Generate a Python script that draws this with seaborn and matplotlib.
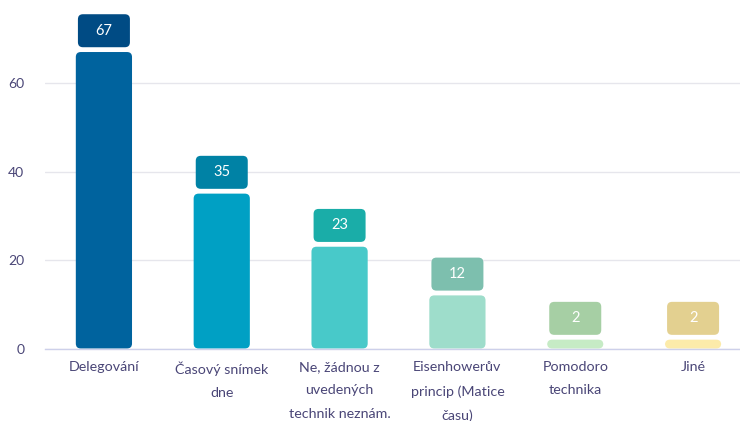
import matplotlib
matplotlib.use("Agg")
import matplotlib.pyplot as plt
from matplotlib.patches import FancyBboxPatch
import seaborn as sns
import pandas as pd

categories = [
    "Delegování",
    "Časový snímek\ndne",
    "Ne, žádnou z\nuvedených\ntechnik neznám.",
    "Eisenhowerův\nprincip (Matice\nčasu)",
    "Pomodoro\ntechnika",
    "Jiné",
]
values = [67, 35, 23, 12, 2, 2]
bar_colors = ["#00639e", "#00a0c4", "#48c9c9", "#9eddcb", "#c6ebc5", "#fcebaa"]
label_colors = ["#004b84", "#0082a5", "#1aada8", "#7dbfae", "#a6cfa4", "#e3d090"]
yticks = [0, 20, 40, 60]

sns.set_theme(style="white")
plt.rcParams["font.family"] = ["Lato", "DejaVu Sans"]
text_color = "#4a4677"

W, H = 740, 421
fig = plt.figure(figsize=(W / 100, H / 100), dpi=100)
ax_left, ax_bottom_px, ax_top_px, ax_right = 45, 348.5, 0, 752
ax = fig.add_axes([ax_left / W, (H - ax_bottom_px) / H,
                   (ax_right - ax_left) / W, (ax_bottom_px - ax_top_px) / H])

df = pd.DataFrame({"cat": categories, "val": values})
sns.barplot(data=df, x="cat", y="val", hue="cat", palette=bar_colors,
            legend=False, width=0.477, ax=ax)

px_per_unit_y = 4.425
ymax = (ax_bottom_px - ax_top_px) / px_per_unit_y
ax.set_ylim(0, ymax)
ax.set_xlim(-0.5, len(categories) - 0.5)
px_per_unit_x = (ax_right - ax_left) / len(categories)
aspect = px_per_unit_x / px_per_unit_y

# Replace plain rectangles with rounded bars and add value tags above them
for i, patch in enumerate(list(ax.patches)):
    x, w, h = patch.get_x(), patch.get_width(), patch.get_height()
    patch.set_visible(False)
    r = 5 / px_per_unit_x
    ax.add_patch(FancyBboxPatch((x, 0), w, h,
                                boxstyle=f"round,pad=0,rounding_size={r}",
                                mutation_aspect=aspect, facecolor=bar_colors[i],
                                edgecolor="none", zorder=2, clip_on=False))
    bw = 52 / px_per_unit_x
    bh = 33 / px_per_unit_y
    gap = 4.8 / px_per_unit_y
    cx = x + w / 2
    ax.add_patch(FancyBboxPatch((cx - bw / 2, h + gap), bw, bh,
                                boxstyle=f"round,pad=0,rounding_size={r}",
                                mutation_aspect=aspect, facecolor=label_colors[i],
                                edgecolor="none", zorder=3, clip_on=False))
    ax.text(cx, h + gap + bh / 2, f"{values[i]}", ha="center", va="center",
            color="white", fontsize=10.5, zorder=4)

ax.set_yticks(yticks)
ax.set_yticklabels([str(t) for t in yticks], color=text_color, fontsize=10)
ax.tick_params(axis="y", length=0, pad=15)
ax.tick_params(axis="x", length=0, pad=9)
for lbl in ax.get_xticklabels():
    lbl.set_color(text_color)
    lbl.set_fontsize(10.3)
    lbl.set_linespacing(2.15)
    lbl.set_va("top")

ax.grid(axis="y", color="#e6e6ec", linewidth=1)
ax.set_axisbelow(True)
for s in ["top", "right", "left"]:
    ax.spines[s].set_visible(False)
ax.spines["bottom"].set_color("#cdd0ea")
ax.spines["bottom"].set_linewidth(1)
ax.set_xlabel("")
ax.set_ylabel("")

fig.savefig("out.png", dpi=100, facecolor="white")
